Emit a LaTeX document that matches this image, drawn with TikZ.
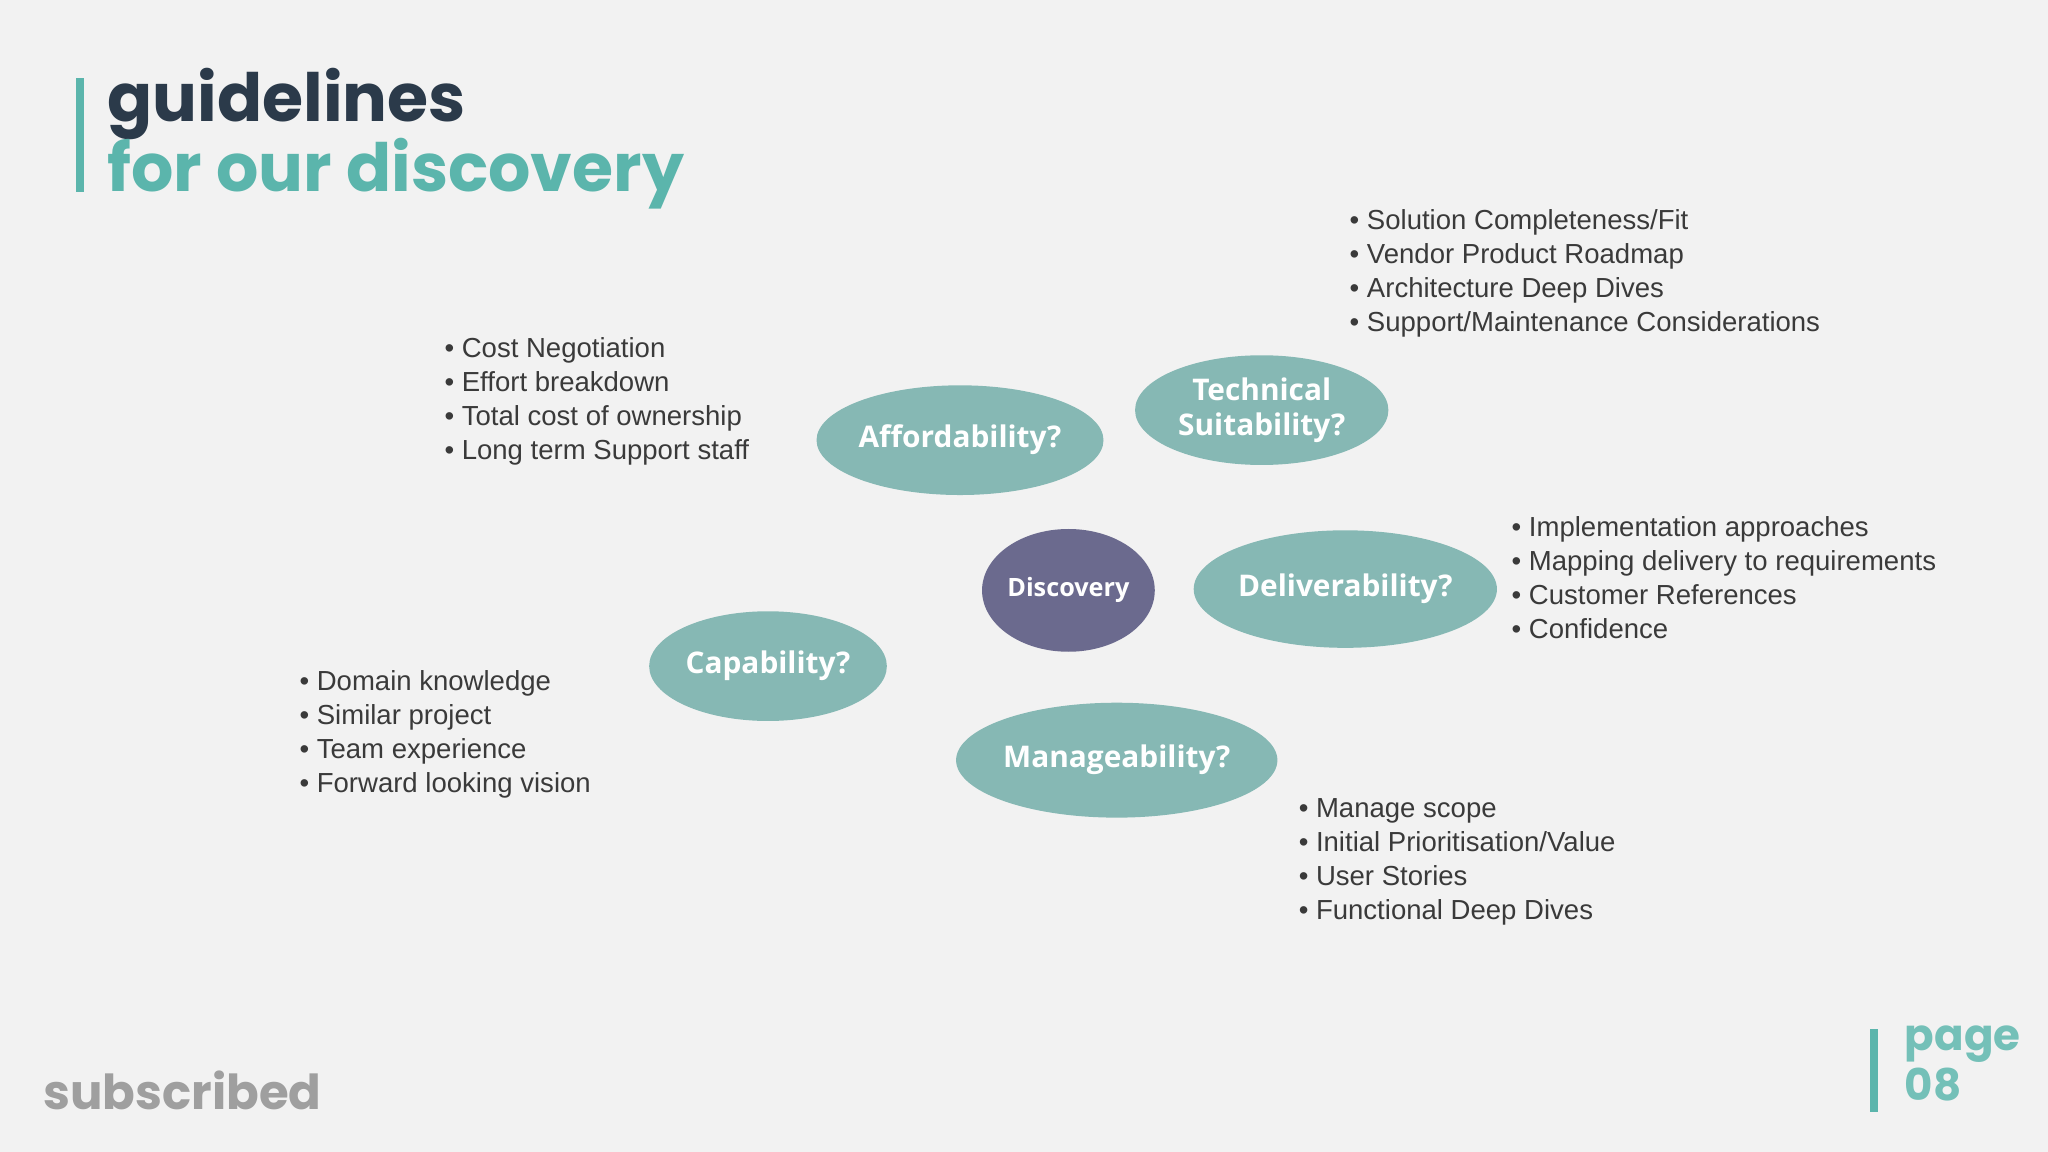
\documentclass[tikz,border=0pt]{standalone}
\usepackage{fontspec}
\setmainfont{Liberation Sans}
\newfontfamily\titlefont{Poppins}
\newfontfamily\nodefont{Open Sans}
\usetikzlibrary{shapes.geometric,backgrounds}
\definecolor{bg}{HTML}{F2F2F2}
\definecolor{teal}{HTML}{86B8B4}
\definecolor{tealdark}{HTML}{5BB5AC}
\definecolor{purp}{HTML}{6B6A8E}
\definecolor{navy}{HTML}{2B3A4A}
\definecolor{txt}{HTML}{3A3A3A}
\begin{document}
\begin{tikzpicture}[x=0.02cm,y=-0.02cm,
  bub/.style={ellipse,fill=teal,draw=none,text=white,font=\nodefont\bfseries\fontsize{13}{15}\selectfont,align=center,inner sep=0pt},
  conn/.style={draw=teal,line width=0.09cm},
  lst/.style={anchor=north west,align=left,text=txt,font=\fontsize{12}{14.8}\selectfont,inner sep=0pt}]
\useasboundingbox (0,0) rectangle (1568,882);
\fill[bg] (0,0) rectangle (1568,882);
% title
\fill[tealdark] (58,60) rectangle (64,147);
\node[anchor=west,text=navy,font=\titlefont\bfseries\fontsize{29}{30}\selectfont,inner sep=0pt] (t1) at (82,80) {guidelines};
\node[anchor=west,text=tealdark,font=\titlefont\bfseries\fontsize{29}{30}\selectfont,inner sep=0pt] (t2) at (82,133) {for our discovery};
% bubbles
\node[bub,minimum width=214\pgflinewidth,text width=4cm] (dummy) at (-500,-500) {};
\node[bub,minimum width=4.28cm,minimum height=1.68cm] (aff) at (735,337) {Affordability?};
\node[bub,minimum width=3.88cm,minimum height=1.68cm] (tech) at (966,314) {Technical\\Suitability?};
\node[bub,minimum width=4.24cm,minimum height=1.8cm] (del) at (1030,451) {Deliverability?};
\node[bub,minimum width=3.64cm,minimum height=1.68cm] (cap) at (588,510) {Capability?};
\node[bub,minimum width=4.92cm,minimum height=1.76cm] (man) at (855,582) {Manageability?};
\node[bub,fill=purp,minimum width=2.24cm,minimum height=1.88cm,font=\nodefont\bfseries\fontsize{11}{13}\selectfont] (disc) at (818,452) {Discovery};
\begin{pgfonlayer}{background}
\draw[conn] (disc) -- (aff);
\draw[conn] (disc) -- (tech);
\draw[conn] (disc) -- (del);
\draw[conn] (disc) -- (cap);
\draw[conn] ([xshift=0.24cm]disc.center) -- ([xshift=0.24cm]disc.center |- man.center);
\end{pgfonlayer}
% lists
\node[lst] (l1) at (1033,160) {• Solution Completeness/Fit\\• Vendor Product Roadmap\\• Architecture Deep Dives\\• Support/Maintenance Considerations};
\node[lst] (l2) at (340,258) {• Cost Negotiation\\• Effort breakdown\\• Total cost of ownership\\• Long term Support staff};
\node[lst] (l3) at (1157,395) {• Implementation approaches\\• Mapping delivery to requirements\\• Customer References\\• Confidence};
\node[lst] (l4) at (229,513) {• Domain knowledge\\• Similar project\\• Team experience\\• Forward looking vision};
\node[lst] (l5) at (994,611) {• Manage scope\\• Initial Prioritisation/Value\\• User Stories\\• Functional Deep Dives};
% footer
\node[anchor=west,text=gray!75,font=\titlefont\bfseries\fontsize{21}{22}\selectfont,inner sep=0pt] (logo) at (33,835) {subscribed};
\fill[tealdark] (1432,788) rectangle (1438,851);
\node[anchor=north west,align=left,text=tealdark!85,font=\titlefont\bfseries\fontsize{19}{22}\selectfont,inner sep=0pt] (pg) at (1458,785) {page\\08};
\end{tikzpicture}
\end{document}
